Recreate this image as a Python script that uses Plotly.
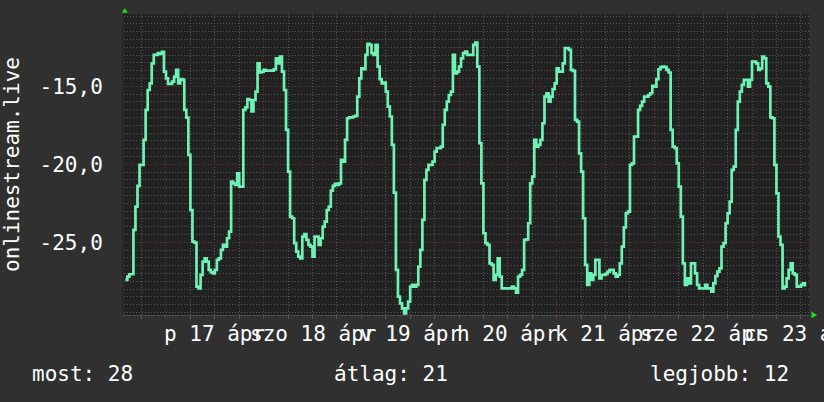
import pandas as pd
import plotly.graph_objects as go

# ---------------- data ----------------
series_name = "onlinestream.live"
start_time = "2020-04-16 14:00"          # first half-hourly sample
step = "30min"
vals_a = [-27.41, -27.20, -27.05, -27.05, -24.21, -22.71, -21.39, -20.04, -20.04, -18.44,
          -16.52, -15.24, -14.81, -13.53, -12.99, -12.99, -12.88, -12.93, -12.80, -14.06,
          -14.49, -14.85, -14.85, -14.70, -14.38, -13.95, -14.81, -14.55, -14.59, -16.52,
          -17.01, -19.40, -22.93, -24.96, -25.02, -27.84, -27.95, -27.09, -26.24, -26.03,
          -26.24, -26.77, -26.92, -26.99, -26.77, -26.13, -26.03, -25.49, -25.17, -25.28,
          -24.74, -24.32, -21.11, -21.22]
vals_b = [-21.32, -20.58, -21.43, -21.43, -16.52, -16.35, -15.83, -15.88, -16.62, -15.88,
          -15.34, -13.53, -14.12, -14.06, -13.95, -14.00, -14.00, -14.00, -14.00, -13.91,
          -13.21, -13.53, -13.10, -14.06, -15.24, -17.80, -20.47, -23.35, -23.46, -25.06,
          -25.60, -25.92, -26.03, -24.64, -24.47, -24.85, -25.17, -25.28, -25.92, -24.64,
          -24.64, -25.17, -24.74, -23.99, -23.68, -22.93, -22.71, -21.69, -21.39, -21.26,
          -21.32, -21.22, -19.72, -19.83, -18.44, -17.05, -16.99]
vals_c = [-16.99, -16.94, -16.90, -15.66, -14.49, -13.85, -13.91, -12.99, -12.29, -12.35,
          -12.88, -12.99, -12.35, -13.74, -14.55, -14.81, -14.77, -15.34, -16.30, -16.94,
          -18.76, -21.82, -26.77, -28.48, -28.91, -29.23, -29.55, -29.23, -28.80, -27.84,
          -27.73, -27.84, -27.73, -26.56, -25.49, -23.57, -21.00, -20.36, -20.04, -20.04,
          -19.83, -19.19, -18.97, -18.97, -18.87, -17.48, -16.52, -15.98, -15.56, -15.34,
          -12.99, -14.17, -14.06, -13.74, -13.21, -12.88, -12.78]
vals_d = [-12.99, -12.99, -12.99, -12.35, -12.20, -13.74, -18.65, -21.22, -24.42, -25.06,
          -25.17, -26.35, -26.45, -27.41, -27.09, -26.03, -27.20, -27.95, -27.95, -27.95,
          -27.95, -27.95, -27.84, -27.95, -28.23, -27.20, -27.09, -26.77, -24.85, -24.81,
          -23.78, -21.22, -20.79, -18.44, -18.87, -18.76, -18.44, -17.37, -15.66, -15.45,
          -15.98, -15.66, -15.19, -14.81, -13.85, -14.06, -14.06, -13.53, -12.56, -12.56,
          -12.67, -13.95, -14.02, -17.16, -17.27, -19.30]
vals_e = [-20.47, -23.46, -26.45, -27.73, -26.99, -27.41, -27.09, -26.13, -26.13, -27.31,
          -27.09, -27.09, -27.03, -26.88, -26.77, -26.77, -26.99, -27.20, -27.09, -26.35,
          -25.28, -24.04, -23.14, -23.03, -20.04, -19.94, -18.23, -18.23, -16.52, -16.26,
          -15.98, -15.66, -15.66, -15.56, -15.45, -14.98, -15.02, -14.55, -13.91, -13.78,
          -13.74, -13.78, -13.95, -14.12, -17.80, -18.87, -18.97, -19.94, -21.43, -23.35,
          -26.35, -27.73, -27.31, -27.63, -26.35, -26.35]
vals_f = [-26.99, -27.73, -27.95, -27.95, -27.95, -27.73, -27.95, -27.95, -28.16, -27.63,
          -27.16, -26.88, -26.67, -25.28, -25.06, -23.78, -23.14, -22.39, -20.36, -20.15,
          -17.80, -15.98, -15.34, -14.91, -14.59, -14.59, -15.02, -14.59, -13.42, -13.42,
          -13.53, -13.95, -13.85, -13.10, -13.21, -14.81, -15.02, -16.99, -17.05, -20.04,
          -21.86, -24.64, -25.17, -27.95, -27.84, -27.31, -26.77, -26.35, -26.99, -27.09,
          -27.84, -27.84, -27.73, -27.63, -27.84]
values = vals_a + vals_b + vals_c + vals_d + vals_e + vals_f

day_dates = ["2020-04-17", "2020-04-18", "2020-04-19", "2020-04-20",
             "2020-04-21", "2020-04-22", "2020-04-23"]
day_labels = ["p 17 ápr", "szo 18 ápr", "v 19 ápr", "h 20 ápr",
              "k 21 ápr", "sze 22 ápr", "cs 23 ápr"]
y_tickvals = [-25, -20, -15]
y_ticktext = ["-25,0", "-20,0", "-15,0"]
summary_labels = ["most: 28", "átlag: 21", "legjobb: 12"]

times = pd.date_range(start_time, periods=len(values), freq=step)

# ---------------- layout helpers ----------------
W, H = 824, 402
L, R, T, B = 124, 15, 14, 87
PW, PH = W - L - R, H - T - B


def px(xp):
    return (xp - L) / PW


def py(yp):
    return (H - B - yp) / PH


FONT = "DejaVu Sans Mono"
TXT = "#ffffff"
BG = "#303030"
PLOT_BG = "#222222"
GRID = "#555555"
MAJOR = "#7a2e2e"
LINE = "#6ff2b5"
ARROW = "#1ee01e"

fig = go.Figure()
fig.add_trace(go.Scatter(
    x=times, y=values, mode="lines", line_shape="hv",
    line=dict(color=LINE, width=2.7), hoverinfo="skip", showlegend=False,
))

annotations = []
for d, lab in zip(day_dates, day_labels):
    annotations.append(dict(
        x=pd.Timestamp(d) + pd.Timedelta(hours=12), xref="x",
        y=py(333.7), yref="paper", text=lab, showarrow=False,
        xanchor="center", yanchor="middle",
        font=dict(family=FONT, size=21, color=TXT),
    ))
for xpos, lab in zip([30, 332, 648], summary_labels):
    annotations.append(dict(
        x=px(xpos), xref="paper", y=py(373.7), yref="paper", text=lab,
        showarrow=False, xanchor="left", yanchor="middle",
        font=dict(family=FONT, size=21, color=TXT),
    ))
annotations.append(dict(
    x=px(12), xref="paper", y=py(165), yref="paper", text=series_name,
    textangle=-90, showarrow=False, xanchor="center", yanchor="middle",
    font=dict(family=FONT, size=21, color=TXT),
))

shapes = [
    dict(type="path", xref="paper", yref="paper", line_width=0, fillcolor=ARROW,
         path=f"M {px(121.8)} {py(12.8)} L {px(127.8)} {py(12.8)} L {px(124.8)} {py(8)} Z"),
    dict(type="path", xref="paper", yref="paper", line_width=0, fillcolor=ARROW,
         path=f"M {px(811.5)} {py(311.5)} L {px(811.5)} {py(318.5)} L {px(817)} {py(315)} Z"),
]

fig.update_layout(
    width=W, height=H,
    margin=dict(l=L, r=R, t=T, b=B),
    paper_bgcolor=BG, plot_bgcolor=PLOT_BG,
    separators=", ",
    annotations=annotations, shapes=shapes,
    font=dict(family=FONT, size=21, color=TXT),
    xaxis=dict(
        type="date",
        range=["2020-04-16 13:41", "2020-04-23 14:00"],
        tick0="2020-04-17", dtick=86400000,
        showgrid=True, gridcolor=MAJOR, griddash="1px,2px", gridwidth=1,
        showticklabels=False, ticks="outside", ticklen=3, tickcolor=MAJOR,
        showline=True, linecolor="#4a4a4a", linewidth=1,
        zeroline=False,
        minor=dict(tick0="2020-04-17", dtick=21600000, showgrid=True,
                   gridcolor=GRID, griddash="1px,2px", gridwidth=1,
                   ticks="outside", ticklen=3, tickcolor=GRID),
    ),
    yaxis=dict(
        range=[-29.66, -10.37],
        tickmode="array", tickvals=y_tickvals, ticktext=y_ticktext,
        showgrid=True, gridcolor=MAJOR, griddash="1px,2px", gridwidth=1,
        ticks="", ticklabelstandoff=15,
        tickfont=dict(family=FONT, size=21, color=TXT),
        showline=True, linecolor="#2a2a2a", linewidth=2,
        zeroline=False,
        minor=dict(tick0=-15, dtick=0.5, showgrid=True,
                   gridcolor=GRID, griddash="1px,2px", gridwidth=1),
    ),
)

fig.write_html(
    "out.html",
    config={"displayModeBar": False},
    post_script="document.body.style.margin='0px';"
                "document.body.style.background='" + BG + "';",
)
